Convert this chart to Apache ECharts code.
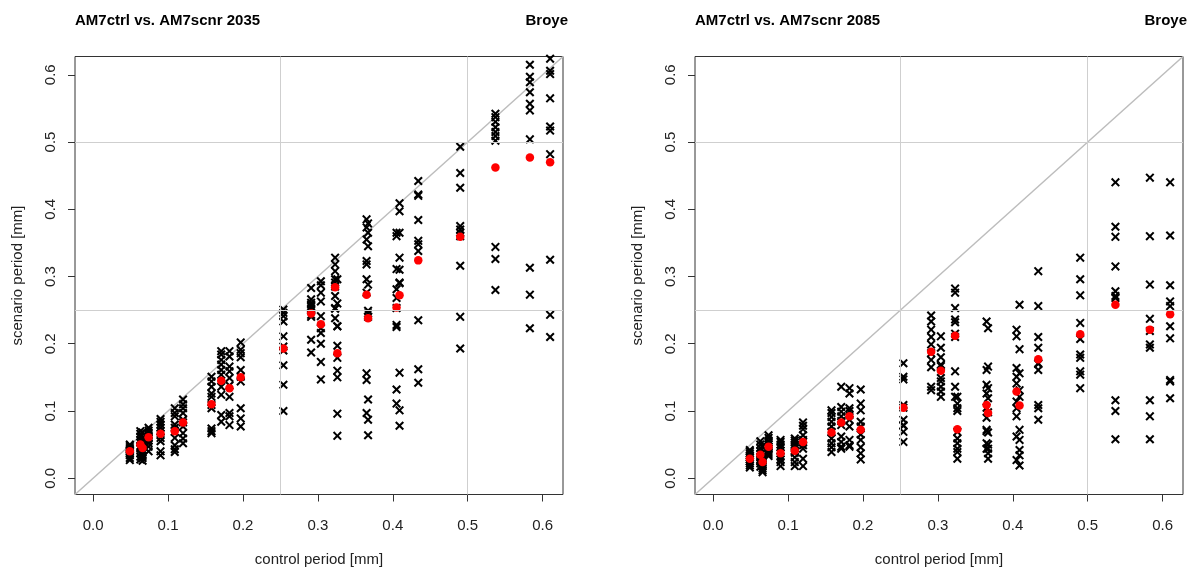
<!DOCTYPE html>
<html><head><meta charset="utf-8">
<script src="https://cdn.jsdelivr.net/npm/echarts@6/dist/echarts.min.js"></script>
<style>html,body{margin:0;padding:0;background:#fff}#c{width:1190px;height:569px}</style>
</head><body><div id="c"></div>
<script>
// control period values (x), one per column
const ctrl = [0.049,0.063,0.066,0.074,0.090,0.109,0.120,0.158,0.171,0.182,0.197,0.254,0.291,0.304,0.323,0.326,0.365,0.367,0.405,0.409,0.434,0.490,0.537,0.583,0.610];

// scenario 2035: ensemble members per column
const scn2035 = [
 [0.050,0.048,0.045,0.043,0.041,0.040,0.037,0.034,0.030,0.027],
 [0.070,0.066,0.062,0.057,0.053,0.048,0.044,0.037,0.032,0.028],
 [0.068,0.060,0.055,0.050,0.046,0.042,0.038,0.033,0.030,0.026],
 [0.075,0.071,0.068,0.064,0.061,0.059,0.056,0.052,0.047,0.040],
 [0.088,0.084,0.080,0.075,0.070,0.066,0.060,0.055,0.040,0.034],
 [0.104,0.097,0.092,0.080,0.075,0.069,0.060,0.049,0.043,0.039],
 [0.117,0.110,0.104,0.097,0.087,0.083,0.077,0.067,0.059,0.052],
 [0.151,0.144,0.136,0.126,0.121,0.109,0.104,0.074,0.070,0.067],
 [0.189,0.184,0.176,0.169,0.161,0.154,0.136,0.124,0.094,0.084],
 [0.189,0.181,0.166,0.159,0.149,0.138,0.121,0.097,0.092,0.079],
 [0.202,0.191,0.186,0.180,0.161,0.151,0.144,0.104,0.089,0.077],
 [0.251,0.246,0.241,0.233,0.211,0.196,0.190,0.168,0.139,0.100],
 [0.283,0.266,0.261,0.258,0.255,0.251,0.243,0.240,0.206,0.187],
 [0.293,0.287,0.276,0.263,0.241,0.223,0.216,0.200,0.173,0.147],
 [0.328,0.318,0.308,0.296,0.291,0.285,0.271,0.253,0.252,0.238],
 [0.296,0.260,0.226,0.226,0.197,0.179,0.160,0.150,0.096,0.063],
 [0.385,0.373,0.355,0.323,0.318,0.296,0.276,0.156,0.146,0.097],
 [0.379,0.365,0.345,0.288,0.249,0.245,0.240,0.117,0.087,0.064],
 [0.365,0.360,0.311,0.281,0.268,0.253,0.228,0.225,0.132,0.111],
 [0.409,0.397,0.365,0.328,0.310,0.291,0.290,0.157,0.101,0.078],
 [0.442,0.422,0.420,0.384,0.353,0.348,0.338,0.235,0.162,0.142],
 [0.493,0.454,0.432,0.375,0.370,0.365,0.360,0.316,0.240,0.193],
 [0.542,0.537,0.530,0.522,0.515,0.509,0.502,0.344,0.326,0.280],
 [0.615,0.597,0.589,0.574,0.557,0.547,0.504,0.313,0.273,0.223],
 [0.624,0.606,0.601,0.565,0.523,0.517,0.482,0.325,0.243,0.210]
];
const mean2035 = [0.040,0.050,0.045,0.061,0.066,0.070,0.083,0.110,0.145,0.134,0.150,0.193,0.245,0.229,0.284,0.186,0.273,0.238,0.254,0.272,0.324,0.359,0.462,0.477,0.470];

// scenario 2085: ensemble members per column
const scn2085 = [
 [0.042,0.040,0.037,0.034,0.031,0.028,0.025,0.022,0.019,0.016],
 [0.055,0.050,0.045,0.040,0.036,0.032,0.028,0.025,0.022,0.017],
 [0.048,0.038,0.030,0.026,0.023,0.020,0.018,0.015,0.012,0.009],
 [0.064,0.060,0.056,0.053,0.050,0.047,0.044,0.039,0.036,0.033],
 [0.057,0.054,0.050,0.046,0.041,0.037,0.032,0.028,0.024,0.018],
 [0.059,0.056,0.053,0.049,0.045,0.041,0.038,0.031,0.024,0.018],
 [0.083,0.078,0.073,0.064,0.057,0.054,0.049,0.044,0.029,0.018],
 [0.101,0.097,0.091,0.084,0.077,0.069,0.059,0.052,0.046,0.039],
 [0.136,0.106,0.099,0.092,0.085,0.079,0.062,0.054,0.047,0.044],
 [0.134,0.126,0.104,0.100,0.094,0.087,0.077,0.057,0.049,0.047],
 [0.132,0.111,0.101,0.084,0.077,0.065,0.057,0.046,0.037,0.028],
 [0.171,0.151,0.147,0.109,0.105,0.087,0.079,0.078,0.069,0.054],
 [0.242,0.233,0.221,0.210,0.199,0.186,0.176,0.165,0.136,0.131],
 [0.211,0.194,0.180,0.169,0.167,0.149,0.144,0.136,0.129,0.121],
 [0.282,0.276,0.253,0.236,0.232,0.215,0.210,0.159,0.136,0.121],
 [0.121,0.111,0.104,0.100,0.069,0.059,0.052,0.044,0.039,0.029],
 [0.233,0.161,0.139,0.126,0.105,0.090,0.072,0.070,0.052,0.044],
 [0.223,0.166,0.134,0.119,0.098,0.068,0.050,0.044,0.037,0.029],
 [0.221,0.211,0.164,0.151,0.141,0.114,0.104,0.092,0.062,0.027],
 [0.258,0.192,0.156,0.131,0.121,0.072,0.057,0.042,0.034,0.019],
 [0.308,0.256,0.210,0.194,0.171,0.170,0.161,0.109,0.104,0.087],
 [0.328,0.296,0.272,0.231,0.207,0.184,0.179,0.159,0.154,0.134],
 [0.440,0.374,0.359,0.315,0.278,0.271,0.268,0.116,0.100,0.058],
 [0.447,0.360,0.288,0.237,0.219,0.199,0.194,0.116,0.092,0.058],
 [0.440,0.361,0.287,0.263,0.256,0.226,0.208,0.146,0.144,0.119]
];
const mean2085 = [0.029,0.035,0.024,0.047,0.037,0.041,0.054,0.068,0.083,0.092,0.072,0.105,0.188,0.160,0.212,0.073,0.109,0.097,0.129,0.108,0.177,0.214,0.258,0.221,0.244];

const tickVals = [0,0.1,0.2,0.3,0.4,0.5,0.6];
const refLines = [0.25,0.5];
const titles = ['AM7ctrl vs. AM7scnr 2035','AM7ctrl vs. AM7scnr 2085'];
const site = 'Broye';
const xName = 'control period [mm]';
const yName = 'scenario period [mm]';

const AMIN = -0.0242, AMAX = 0.6272;
const FONT = 'Liberation Sans, Arial, Helvetica, sans-serif';
const XPATH = 'path://M0,1.6L1.6,0L5,3.4L8.4,0L10,1.6L6.6,5L10,8.4L8.4,10L5,6.6L1.6,10L0,8.4L3.4,5Z';

function pts(vals){const o=[];ctrl.forEach((c,i)=>vals[i].forEach(v=>o.push([c,v])));return o;}
function mpts(m){return ctrl.map((c,i)=>[c,m[i]]);}

const grids=[{left:75,top:56.5,width:488,height:438,show:true,borderColor:'#333',borderWidth:1,backgroundColor:'transparent',outerBoundsMode:'none',containLabel:false},
             {left:695,top:56.5,width:488,height:438,show:true,borderColor:'#333',borderWidth:1,backgroundColor:'transparent',outerBoundsMode:'none',containLabel:false}];
function xa(i){return {type:'value',gridIndex:i,min:AMIN,max:AMAX,position:'bottom',
  name:xName,nameLocation:'middle',nameGap:58,nameTextStyle:{fontSize:15,color:'#222',fontFamily:FONT},
  axisLine:{show:false,onZero:false},splitLine:{show:false},
  axisTick:{show:true,inside:false,length:7,customValues:tickVals,lineStyle:{color:'#333'}},
  axisLabel:{customValues:tickVals,fontSize:15,color:'#222',fontFamily:FONT,margin:24,formatter:v=>v.toFixed(1)}};}
function ya(i){return {type:'value',gridIndex:i,min:AMIN,max:AMAX,position:'left',
  name:yName,nameLocation:'middle',nameGap:50,nameTextStyle:{fontSize:15,color:'#222',fontFamily:FONT},
  axisLine:{show:false,onZero:false},splitLine:{show:false},
  axisTick:{show:true,inside:false,length:7,customValues:tickVals,lineStyle:{color:'#333'}},
  axisLabel:{customValues:tickVals,rotate:90,fontSize:15,color:'#222',fontFamily:FONT,margin:17,formatter:v=>v.toFixed(1)}};}

const series=[];
[scn2035,scn2085].forEach((scn,i)=>{
  const means=[mean2035,mean2085][i];
  series.push({type:'line',xAxisIndex:i,yAxisIndex:i,data:[[AMIN,AMIN],[AMAX,AMAX]],symbol:'none',silent:true,z:1,
    lineStyle:{color:'#bdbdbd',width:1.5},
    markLine:{silent:true,symbol:['none','none'],label:{show:false},animation:false,
      lineStyle:{color:'#cfcfcf',type:'solid',width:1},
      data:refLines.map(v=>({xAxis:v})).concat(refLines.map(v=>({yAxis:v})))}});
  series.push({type:'scatter',xAxisIndex:i,yAxisIndex:i,data:pts(scn),symbol:XPATH,symbolSize:9,z:2,
    itemStyle:{color:'#000',opacity:1}});
  series.push({type:'scatter',xAxisIndex:i,yAxisIndex:i,data:mpts(means),symbol:'circle',symbolSize:8.5,z:3,
    itemStyle:{color:'#f00',opacity:1}});
});

const ts={fontSize:15,fontWeight:'bold',color:'#000',fontFamily:FONT};
const chart=echarts.init(document.getElementById('c'),null,{renderer:'canvas'});
chart.setOption({animation:false,backgroundColor:'#fff',
  title:[{text:titles[0],left:75,top:13,textStyle:ts,padding:0},
         {text:site,right:622,top:13,textStyle:ts,padding:0},
         {text:titles[1],left:695,top:13,textStyle:ts,padding:0},
         {text:site,right:3,top:13,textStyle:ts,padding:0}],
  grid:grids,xAxis:[xa(0),xa(1)],yAxis:[ya(0),ya(1)],series:series});
</script></body></html>
